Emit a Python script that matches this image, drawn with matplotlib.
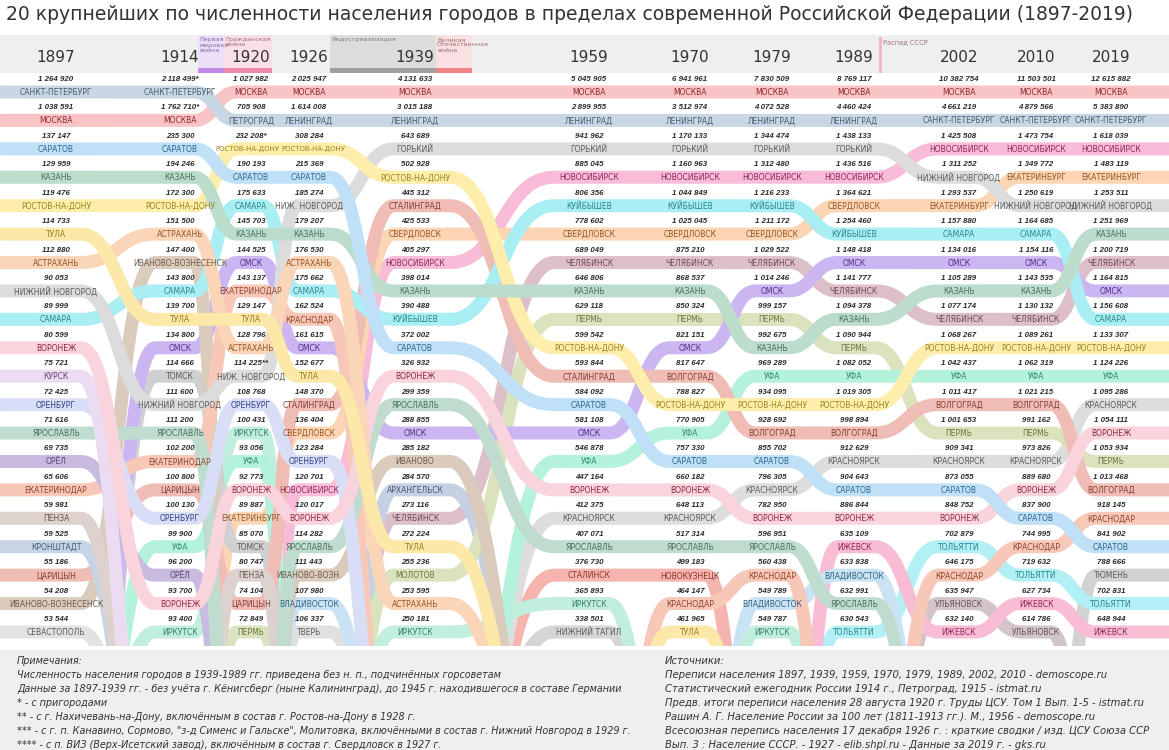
import colorsys
import numpy as np
import matplotlib
matplotlib.use("Agg")
import matplotlib.pyplot as plt
from matplotlib.patches import Rectangle
from matplotlib.colors import to_rgb

# ---------------- DATA ----------------
years = [1897, 1914, 1920, 1926, 1939, 1959, 1970, 1979, 1989, 2002, 2010, 2019]

names_1897 = ["САНКТ-ПЕТЕРБУРГ", "МОСКВА", "САРАТОВ", "КАЗАНЬ", "РОСТОВ-НА-ДОНУ", "ТУЛА", "АСТРАХАНЬ",
              "НИЖНИЙ НОВГОРОД", "САМАРА", "ВОРОНЕЖ", "КУРСК", "ОРЕНБУРГ", "ЯРОСЛАВЛЬ", "ОРЁЛ",
              "ЕКАТЕРИНОДАР", "ПЕНЗА", "КРОНШТАДТ", "ЦАРИЦЫН", "ИВАНОВО-ВОЗНЕСЕНСК", "СЕВАСТОПОЛЬ"]
values_1897 = [1264920, 1038591, 137147, 129959, 119476, 114733, 112880, 90053, 89999, 80599,
               75721, 72425, 71616, 69735, 65606, 59981, 59525, 55186, 54208, 53544]

names_1914 = ["САНКТ-ПЕТЕРБУРГ", "МОСКВА", "САРАТОВ", "КАЗАНЬ", "РОСТОВ-НА-ДОНУ", "АСТРАХАНЬ",
              "ИВАНОВО-ВОЗНЕСЕНСК", "САМАРА", "ТУЛА", "ОМСК", "ТОМСК", "НИЖНИЙ НОВГОРОД", "ЯРОСЛАВЛЬ",
              "ЕКАТЕРИНОДАР", "ЦАРИЦЫН", "ОРЕНБУРГ", "УФА", "ОРЁЛ", "ВОРОНЕЖ", "ИРКУТСК"]
values_1914 = [2118499, 1762710, 235300, 194246, 172300, 151500, 147400, 143800, 139700, 134800,
               114666, 111600, 111200, 102200, 100800, 100130, 99900, 96200, 93700, 93400]

names_1920 = ["МОСКВА", "ПЕТРОГРАД", "РОСТОВ-НА-ДОНУ", "САРАТОВ", "САМАРА", "КАЗАНЬ", "ОМСК",
              "ЕКАТЕРИНОДАР", "ТУЛА", "АСТРАХАНЬ", "НИЖ. НОВГОРОД", "ОРЕНБУРГ", "ИРКУТСК", "УФА",
              "ВОРОНЕЖ", "ЕКАТЕРИНБУРГ", "ТОМСК", "ПЕНЗА", "ЦАРИЦЫН", "ПЕРМЬ"]
values_1920 = [1027982, 705908, 232208, 190193, 175633, 145703, 144525, 143137, 129147, 128796,
               114225, 108768, 100431, 93056, 92773, 89887, 85070, 80747, 74104, 72849]

names_1926 = ["МОСКВА", "ЛЕНИНГРАД", "РОСТОВ-НА-ДОНУ", "САРАТОВ", "НИЖ. НОВГОРОД", "КАЗАНЬ",
              "АСТРАХАНЬ", "САМАРА", "КРАСНОДАР", "ОМСК", "ТУЛА", "СТАЛИНГРАД", "СВЕРДЛОВСК",
              "ОРЕНБУРГ", "НОВОСИБИРСК", "ВОРОНЕЖ", "ЯРОСЛАВЛЬ", "ИВАНОВО-ВОЗН.", "ВЛАДИВОСТОК", "ТВЕРЬ"]
values_1926 = [2025947, 1614008, 308284, 215369, 185274, 179207, 176530, 175662, 162524, 161615,
               152677, 148370, 136404, 123284, 120701, 120017, 114282, 111443, 107980, 106337]

names_1939 = ["МОСКВА", "ЛЕНИНГРАД", "ГОРЬКИЙ", "РОСТОВ-НА-ДОНУ", "СТАЛИНГРАД", "СВЕРДЛОВСК",
              "НОВОСИБИРСК", "КАЗАНЬ", "КУЙБЫШЕВ", "САРАТОВ", "ВОРОНЕЖ", "ЯРОСЛАВЛЬ", "ОМСК",
              "ИВАНОВО", "АРХАНГЕЛЬСК", "ЧЕЛЯБИНСК", "ТУЛА", "МОЛОТОВ", "АСТРАХАНЬ", "ИРКУТСК"]
values_1939 = [4131633, 3015188, 643689, 502928, 445312, 425533, 405297, 398014, 390488, 372002,
               326932, 299359, 288855, 285182, 284570, 273116, 272224, 255236, 253595, 250181]

names_1959 = ["МОСКВА", "ЛЕНИНГРАД", "ГОРЬКИЙ", "НОВОСИБИРСК", "КУЙБЫШЕВ", "СВЕРДЛОВСК",
              "ЧЕЛЯБИНСК", "КАЗАНЬ", "ПЕРМЬ", "РОСТОВ-НА-ДОНУ", "СТАЛИНГРАД", "САРАТОВ", "ОМСК",
              "УФА", "ВОРОНЕЖ", "КРАСНОЯРСК", "ЯРОСЛАВЛЬ", "СТАЛИНСК", "ИРКУТСК", "НИЖНИЙ ТАГИЛ"]
values_1959 = [5045905, 2899955, 941962, 885045, 806356, 778602, 689049, 646806, 629118, 599542,
               593844, 584092, 581108, 546878, 447164, 412375, 407071, 376730, 365893, 338501]

names_1970 = ["МОСКВА", "ЛЕНИНГРАД", "ГОРЬКИЙ", "НОВОСИБИРСК", "КУЙБЫШЕВ", "СВЕРДЛОВСК",
              "ЧЕЛЯБИНСК", "КАЗАНЬ", "ПЕРМЬ", "ОМСК", "ВОЛГОГРАД", "РОСТОВ-НА-ДОНУ", "УФА", "САРАТОВ",
              "ВОРОНЕЖ", "КРАСНОЯРСК", "ЯРОСЛАВЛЬ", "НОВОКУЗНЕЦК", "КРАСНОДАР", "ТУЛА"]
values_1970 = [6941961, 3512974, 1170133, 1160963, 1044849, 1025045, 875210, 868537, 850324, 821151,
               817647, 788827, 770905, 757330, 660182, 648113, 517314, 499183, 464147, 461965]

names_1979 = ["МОСКВА", "ЛЕНИНГРАД", "ГОРЬКИЙ", "НОВОСИБИРСК", "КУЙБЫШЕВ", "СВЕРДЛОВСК",
              "ЧЕЛЯБИНСК", "ОМСК", "ПЕРМЬ", "КАЗАНЬ", "УФА", "РОСТОВ-НА-ДОНУ", "ВОЛГОГРАД", "САРАТОВ",
              "КРАСНОЯРСК", "ВОРОНЕЖ", "ЯРОСЛАВЛЬ", "КРАСНОДАР", "ВЛАДИВОСТОК", "ИРКУТСК"]
values_1979 = [7830509, 4072528, 1344474, 1312480, 1216233, 1211172, 1029522, 1014246, 999157, 992675,
               969289, 934095, 928692, 855702, 796305, 782950, 596951, 560438, 549789, 549787]

names_1989 = ["МОСКВА", "ЛЕНИНГРАД", "ГОРЬКИЙ", "НОВОСИБИРСК", "СВЕРДЛОВСК", "КУЙБЫШЕВ", "ОМСК",
              "ЧЕЛЯБИНСК", "КАЗАНЬ", "ПЕРМЬ", "УФА", "РОСТОВ-НА-ДОНУ", "ВОЛГОГРАД", "КРАСНОЯРСК",
              "САРАТОВ", "ВОРОНЕЖ", "ИЖЕВСК", "ВЛАДИВОСТОК", "ЯРОСЛАВЛЬ", "ТОЛЬЯТТИ"]
values_1989 = [8769117, 4460424, 1438133, 1436516, 1364621, 1254460, 1148418, 1141777, 1094378, 1090944,
               1082052, 1019305, 998894, 912629, 904643, 886844, 635109, 633838, 632991, 630543]

names_2002 = ["МОСКВА", "САНКТ-ПЕТЕРБУРГ", "НОВОСИБИРСК", "НИЖНИЙ НОВГОРОД", "ЕКАТЕРИНБУРГ", "САМАРА",
              "ОМСК", "КАЗАНЬ", "ЧЕЛЯБИНСК", "РОСТОВ-НА-ДОНУ", "УФА", "ВОЛГОГРАД", "ПЕРМЬ", "КРАСНОЯРСК",
              "САРАТОВ", "ВОРОНЕЖ", "ТОЛЬЯТТИ", "КРАСНОДАР", "УЛЬЯНОВСК", "ИЖЕВСК"]
values_2002 = [10382754, 4661219, 1425508, 1311252, 1293537, 1157880, 1134016, 1105289, 1077174, 1068267,
               1042437, 1011417, 1001653, 909341, 873055, 848752, 702879, 646175, 635947, 632140]

names_2010 = ["МОСКВА", "САНКТ-ПЕТЕРБУРГ", "НОВОСИБИРСК", "ЕКАТЕРИНБУРГ", "НИЖНИЙ НОВГОРОД", "САМАРА",
              "ОМСК", "КАЗАНЬ", "ЧЕЛЯБИНСК", "РОСТОВ-НА-ДОНУ", "УФА", "ВОЛГОГРАД", "ПЕРМЬ", "КРАСНОЯРСК",
              "ВОРОНЕЖ", "САРАТОВ", "КРАСНОДАР", "ТОЛЬЯТТИ", "ИЖЕВСК", "УЛЬЯНОВСК"]
values_2010 = [11503501, 4879566, 1473754, 1349772, 1250619, 1164685, 1154116, 1143535, 1130132, 1089261,
               1062319, 1021215, 991162, 973826, 889680, 837900, 744995, 719632, 627734, 614786]

names_2019 = ["МОСКВА", "САНКТ-ПЕТЕРБУРГ", "НОВОСИБИРСК", "ЕКАТЕРИНБУРГ", "НИЖНИЙ НОВГОРОД", "КАЗАНЬ",
              "ЧЕЛЯБИНСК", "ОМСК", "САМАРА", "РОСТОВ-НА-ДОНУ", "УФА", "КРАСНОЯРСК", "ВОРОНЕЖ", "ПЕРМЬ",
              "ВОЛГОГРАД", "КРАСНОДАР", "САРАТОВ", "ТЮМЕНЬ", "ТОЛЬЯТТИ", "ИЖЕВСК"]
values_2019 = [12615882, 5383890, 1618039, 1483119, 1253511, 1251969, 1200719, 1164815, 1156608, 1133307,
               1124226, 1095286, 1054111, 1053934, 1013468, 918145, 841902, 788666, 702831, 648944]

# footnote marks (year, rank index) -> mark
marks = {(1914, 0): "*", (1914, 1): "*", (1920, 2): "*", (1920, 10): "**"}

# historical names of one city
aliases = {"ПЕТРОГРАД": "САНКТ-ПЕТЕРБУРГ", "ЛЕНИНГРАД": "САНКТ-ПЕТЕРБУРГ",
           "НИЖ. НОВГОРОД": "НИЖНИЙ НОВГОРОД", "ГОРЬКИЙ": "НИЖНИЙ НОВГОРОД",
           "КУЙБЫШЕВ": "САМАРА", "СВЕРДЛОВСК": "ЕКАТЕРИНБУРГ",
           "ЦАРИЦЫН": "ВОЛГОГРАД", "СТАЛИНГРАД": "ВОЛГОГРАД",
           "ЕКАТЕРИНОДАР": "КРАСНОДАР", "МОЛОТОВ": "ПЕРМЬ",
           "ИВАНОВО-ВОЗНЕСЕНСК": "ИВАНОВО", "ИВАНОВО-ВОЗН.": "ИВАНОВО",
           "СТАЛИНСК": "НОВОКУЗНЕЦК"}

names_by_year = [names_1897, names_1914, names_1920, names_1926, names_1939, names_1959,
                 names_1970, names_1979, names_1989, names_2002, names_2010, names_2019]
values_by_year = [values_1897, values_1914, values_1920, values_1926, values_1939, values_1959,
                  values_1970, values_1979, values_1989, values_2002, values_2010, values_2019]

# ---------------- STYLE ----------------
ribbon_colors = {
    "МОСКВА": "#f9c4c6", "САНКТ-ПЕТЕРБУРГ": "#c9d6e3", "САРАТОВ": "#bfe0f7", "КАЗАНЬ": "#bcdccc",
    "РОСТОВ-НА-ДОНУ": "#fdeeab", "ТУЛА": "#fce8a8", "АСТРАХАНЬ": "#fad5b8", "НИЖНИЙ НОВГОРОД": "#dcdcdc",
    "САМАРА": "#a8eef3", "ВОРОНЕЖ": "#fad4dc", "КУРСК": "#ecdcf2", "ОРЕНБУРГ": "#d9def7",
    "ЯРОСЛАВЛЬ": "#bfdccf", "ОРЁЛ": "#c9badf", "КРАСНОДАР": "#f7c8b8", "ПЕНЗА": "#ddd2cd",
    "КРОНШТАДТ": "#c6d4e6", "ВОЛГОГРАД": "#efbdb5", "ИВАНОВО": "#dacbbd", "СЕВАСТОПОЛЬ": "#e2e2e2",
    "ОМСК": "#cbb6f2", "ТОМСК": "#d0d0d0", "ИРКУТСК": "#c2eedd", "УФА": "#b4f2dc",
    "ЕКАТЕРИНБУРГ": "#fcd5b5", "ПЕРМЬ": "#dae3bd", "НОВОСИБИРСК": "#f9bcd8", "ЧЕЛЯБИНСК": "#dcbfc9",
    "АРХАНГЕЛЬСК": "#c5d0e3", "КРАСНОЯРСК": "#dddddd", "ВЛАДИВОСТОК": "#c9e3f4", "ТВЕРЬ": "#e0e0e0",
    "НОВОКУЗНЕЦК": "#f5b5ae", "НИЖНИЙ ТАГИЛ": "#d5d5d5", "ИЖЕВСК": "#f9bcd5", "ТОЛЬЯТТИ": "#b2f0f5",
    "УЛЬЯНОВСК": "#d3c4cb", "ТЮМЕНЬ": "#d2d2d2",
}

W, H = 1169, 750
col_x = [56, 180, 251, 309, 415, 589, 690, 772, 854, 959, 1036, 1111]
Y0, PITCH = 92.0, 28.42
HIDDEN = 820.0
FLAT = 0.2
RIB_PX = 13
FONT = "DejaVu Sans"
# small horizontal nudges for labels that would collide in the narrow 1920/1926 columns
label_nudge = {(1920, 2): (-4, 5.0), (1926, 2): (4, 5.0)}


def row_y(r):
    return Y0 + r * PITCH


def text_color(c):
    r, g, b = to_rgb(c)
    h, l, s = colorsys.rgb_to_hls(r, g, b)
    return colorsys.hls_to_rgb(h, 0.36, min(1.0, s * 0.7))


def fmt(v):
    return f"{v:,}".replace(",", " ")


fig = plt.figure(figsize=(W / 100, H / 100), dpi=100)
ax = fig.add_axes([0, 0, 1, 1])
ax.set_xlim(0, W)
ax.set_ylim(H, 0)
ax.axis("off")

# title
ax.text(6, 15, "20 крупнейших по численности населения городов в пределах современной Российской Федерации (1897-2019)",
        fontsize=13.5, color="#333333", family=FONT, va="center", ha="left")

# header band
ax.add_patch(Rectangle((0, 35), W, 38, color="#efefef", zorder=1, lw=0))
periods = [
    (198, 224, "#ece0f8", "#c58ae8", "Первая\nмировая\nвойна", "#8a6aa8"),
    (224, 272, "#f9e0e8", "#f088a8", "Гражданская\nвойна", "#a06a80"),
    (330, 436, "#dcdcdc", "#a0a0a0", "Индустриализация", "#808080"),
    (436, 472, "#f9e0e2", "#f08484", "Великая\nОтечественная\nвойна", "#a07070"),
]
for x0, x1, bg, bar, lab, tc in periods:
    ax.add_patch(Rectangle((x0, 35), x1 - x0, 38, color=bg, zorder=1.2, lw=0))
    ax.add_patch(Rectangle((x0, 68), x1 - x0, 5, color=bar, zorder=1.4, lw=0))
    ax.text(x0 + 1, 37.5, lab, fontsize=4.6, color=tc, family=FONT, va="top", ha="left",
            linespacing=1.0, zorder=3)
ax.add_patch(Rectangle((879, 37), 2.5, 36, color="#f0b8c0", zorder=1.4, lw=0))
ax.text(883, 42, "Распад СССР", fontsize=4.8, color="#a07080", family=FONT, va="center", ha="left", zorder=3)

for x, yr in zip(col_x, years):
    ax.text(x, 58, str(yr), fontsize=11, color="#333333", family=FONT, va="center", ha="center", zorder=3)

# ribbons
clip = Rectangle((-50, 73), W + 100, 646 - 73, transform=ax.transData, fill=False, lw=0)
ax.add_patch(clip)
canon = [[aliases.get(n, n) for n in names] for names in names_by_year]
cities = []
for lst in canon:
    for c in lst:
        if c not in cities:
            cities.append(c)

n = len(years)
gaps = [col_x[i + 1] - col_x[i] for i in range(n - 1)]
lw_pt = RIB_PX * 72 / 100
t = np.linspace(0, 1, 60)
for zi, city in enumerate(reversed(cities)):
    yv = [row_y(lst.index(city)) if city in lst else HIDDEN for lst in canon]
    xs, ys = [], []
    for i in range(n):
        left = -20 if i == 0 else col_x[i] - FLAT * gaps[i - 1]
        right = W + 20 if i == n - 1 else col_x[i] + FLAT * gaps[i]
        xs += [left, right]
        ys += [yv[i], yv[i]]
        if i < n - 1:
            xa, xb = right, col_x[i + 1] - FLAT * gaps[i]
            xm = (xa + xb) / 2
            bx = (1 - t) ** 3 * xa + 3 * (1 - t) ** 2 * t * xm + 3 * (1 - t) * t ** 2 * xm + t ** 3 * xb
            by = yv[i] + (yv[i + 1] - yv[i]) * (3 * t ** 2 - 2 * t ** 3)
            xs += list(bx[1:-1])
            ys += list(by[1:-1])
    ln, = ax.plot(xs, ys, color=ribbon_colors[city], lw=lw_pt, solid_capstyle="butt",
                  solid_joinstyle="round", zorder=2 + zi * 0.001)
    ln.set_clip_path(clip)

# labels
for i, yr in enumerate(years):
    for r, (nm, v) in enumerate(zip(names_by_year[i], values_by_year[i])):
        cy = row_y(r)
        c = aliases.get(nm, nm)
        dx, fs = label_nudge.get((yr, r), (0, 5.5))
        ax.text(col_x[i], cy - 12.5, fmt(v) + marks.get((yr, r), ""), fontsize=5.7, color="#2a2a2a",
                family="Liberation Sans", weight="bold", style="italic", ha="center", va="center", zorder=5)
        ax.text(col_x[i] + dx, cy + 0.5, nm, fontsize=fs, color=text_color(ribbon_colors[c]),
                family=FONT, ha="center", va="center", zorder=5)

# footer
ax.add_patch(Rectangle((0, 650), W, 100, color="#efefef", zorder=6, lw=0))
notes_left = [
    "Примечания:",
    "Численность населения городов в 1939-1989 гг. приведена без н. п., подчинённых горсоветам",
    "Данные за 1897-1939 гг. - без учёта г. Кёнигсберг (ныне Калининград), до 1945 г. находившегося в составе Германии",
    "* - с пригородами",
    "** - с г. Нахичевань-на-Дону, включённым в состав г. Ростов-на-Дону в 1928 г.",
    "*** - с г. п. Канавино, Сормово, \"з-д Сименс и Гальске\", Молитовка, включёнными в состав г. Нижний Новгород в 1929 г.",
    "**** - с п. ВИЗ (Верх-Исетский завод), включённым в состав г. Свердловск в 1927 г.",
]
notes_right = [
    "Источники:",
    "Переписи населения 1897, 1939, 1959, 1970, 1979, 1989, 2002, 2010 - demoscope.ru",
    "Статистический ежегодник России 1914 г., Петроград, 1915 - istmat.ru",
    "Предв. итоги переписи населения 28 августа 1920 г. Труды ЦСУ. Том 1 Вып. 1-5 - istmat.ru",
    "Рашин А. Г. Население России за 100 лет (1811-1913 гг.). М., 1956 - demoscope.ru",
    "Всесоюзная перепись населения 17 декабря 1926 г. : краткие сводки / изд. ЦСУ Союза ССР",
    "Вып. 3 : Население СССР. - 1927 - elib.shpl.ru - Данные за 2019 г. - gks.ru",
]
for k, line in enumerate(notes_left):
    ax.text(17, 661 + k * 14, line, fontsize=6.95, style="italic", color="#333333", family=FONT,
            va="center", ha="left", zorder=7)
for k, line in enumerate(notes_right):
    ax.text(665, 661 + k * 14, line, fontsize=7.2, style="italic", color="#333333", family=FONT,
            va="center", ha="left", zorder=7)

fig.savefig("out.png", dpi=100)
